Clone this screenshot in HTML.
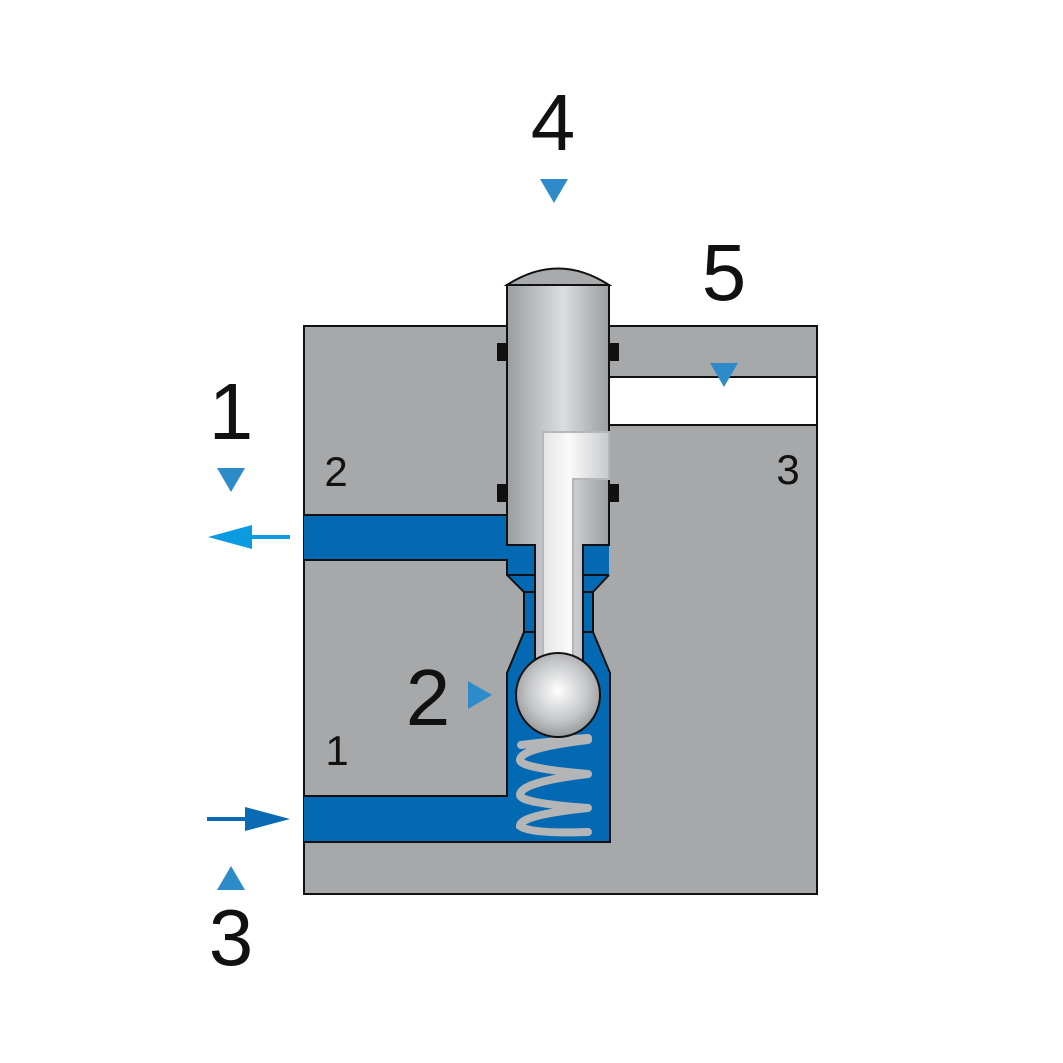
<!DOCTYPE html>
<html><head><meta charset="utf-8"><style>
html,body{margin:0;padding:0;background:#fff;width:1063px;height:1063px;overflow:hidden}
svg{display:block}
text{font-family:"Liberation Sans","DejaVu Sans",sans-serif}
</style></head><body>
<svg width="1063" height="1063" viewBox="0 0 1063 1063" xmlns="http://www.w3.org/2000/svg">
<defs>
<linearGradient id="pl" x1="0" x2="1" y1="0" y2="0">
<stop offset="0" stop-color="#9c9da0"/><stop offset="0.55" stop-color="#dcdde0"/><stop offset="1" stop-color="#9c9da0"/>
</linearGradient>
<linearGradient id="wh" x1="0" x2="1">
<stop offset="0" stop-color="#e4e4e6"/><stop offset="0.4" stop-color="#fafafa"/><stop offset="1" stop-color="#c8c9cc"/>
</linearGradient>
<radialGradient id="ball" cx="0.5" cy="0.45" r="0.6">
<stop offset="0" stop-color="#ffffff"/><stop offset="0.6" stop-color="#c4c5c7"/><stop offset="1" stop-color="#8d8e90"/>
</radialGradient>
</defs>
<rect x="304" y="326" width="513" height="568" fill="#a7a8aa" stroke="#111" stroke-width="2"/>
<rect x="609" y="377" width="208" height="48" fill="#fff" stroke="#111" stroke-width="2"/>
<!-- blue cavity -->
<rect x="304" y="515" width="305" height="45" fill="#0369b3"/>
<path d="M507,545 V575 L524,592 V632 L507,673 V796 H304 V842 H610 V673 L593,632 V592 L609,575 V545 Z" fill="#0369b3"/>
<path d="M304,515 H507 M304,560 H507 V575 L524,592 V632 L507,673 V796 H304 M304,842 H610 V673 L593,632 V592 L609,575" fill="none" stroke="#111" stroke-width="2"/>
<path d="M507,575 H535 M524,592 H535 M524,632 H535 M583,575 H609 M583,592 H593 M583,632 H593" stroke="#111" stroke-width="2"/>
<!-- plunger -->
<path d="M507,285 Q558,252 609,285 Z" fill="#a9aaac" stroke="#111" stroke-width="2"/>
<path d="M507,285 H609 V545 H583 V665 H535 V545 H507 Z" fill="url(#pl)" stroke="#111" stroke-width="2"/>
<path d="M543,432 H609 V479 H573 V665 H543 Z" fill="url(#wh)" stroke="#b5b6b8" stroke-width="2"/>
<g fill="#111">
<rect x="497" y="343" width="10" height="18"/><rect x="609" y="343" width="10" height="18"/>
<rect x="497" y="484" width="10" height="18"/><rect x="609" y="484" width="10" height="18"/>
</g>
<!-- spring -->
<g fill="none" stroke="#b4b5b7" stroke-width="8" stroke-linecap="round">
<path d="M521,745 Q580,738 588,738 M588,740 Q520,748 520,760 Q520,768 588,774 M588,774 Q520,782 520,795 Q520,803 588,808 M588,808 Q520,815 520,826 Q530,834 588,832"/>
</g>
<circle cx="558" cy="695" r="42" fill="url(#ball)" stroke="#111" stroke-width="2"/>
<!-- arrows -->
<line x1="290" y1="537" x2="240" y2="537" stroke="#0a9be0" stroke-width="4"/>
<polygon points="208,537 252,525 252,549" fill="#0a9be0"/>
<line x1="207" y1="819" x2="258" y2="819" stroke="#0b6ab4" stroke-width="4"/>
<polygon points="290,819 245,807 245,831" fill="#0b6ab4"/>
<g fill="#2e8bc9">
<polygon points="540,179 568,179 554,203"/>
<polygon points="710,363 738,363 724,387"/>
<polygon points="217,468 245,468 231,492"/>
<polygon points="468,681 468,709 492,695"/>
<polygon points="217,890 245,890 231,866"/>
</g>
<g fill="#111" text-anchor="middle">
<text x="553" y="150" font-size="80">4</text>
<text x="724" y="300" font-size="80">5</text>
<text x="231" y="439" font-size="80">1</text>
<text x="428" y="725" font-size="80">2</text>
<text x="231" y="965" font-size="80">3</text>
<text x="336" y="486" font-size="42">2</text>
<text x="788" y="484" font-size="42">3</text>
<text x="337" y="765" font-size="42">1</text>
</g>
</svg>
</body></html>
